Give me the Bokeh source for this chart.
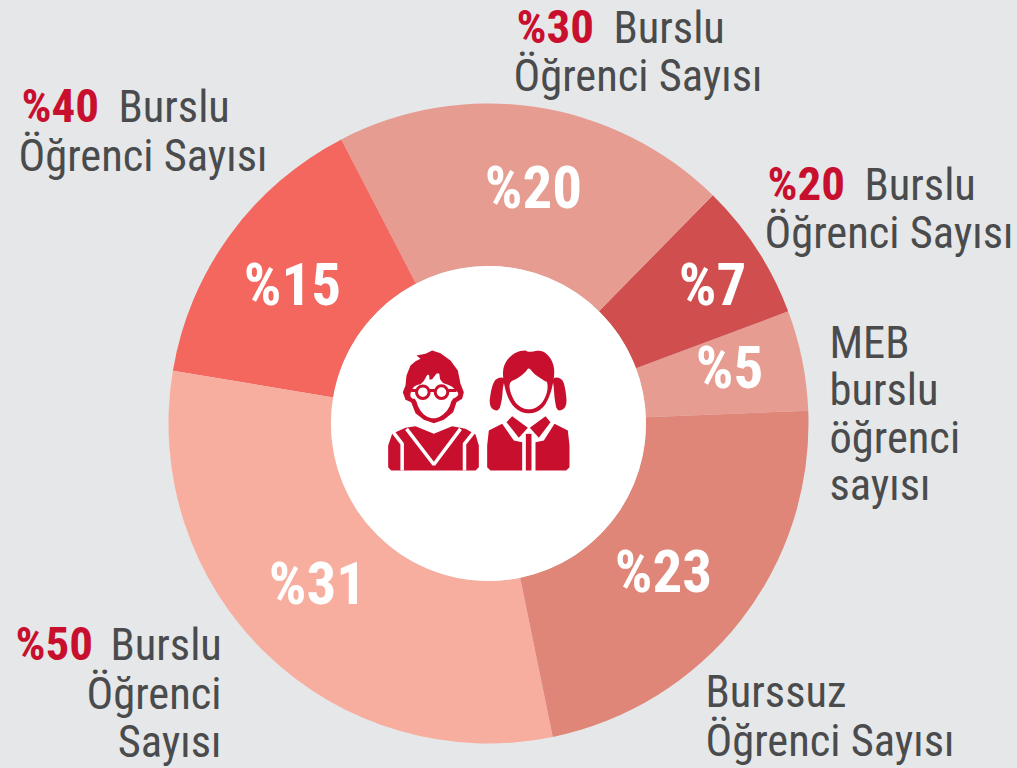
from math import pi
from bokeh.plotting import figure
from bokeh.models import Range1d, ColumnDataSource
from bokeh.core.properties import value
from bokeh.embed import file_html
from bokeh.resources import INLINE

W, H = 1017, 768
BG = "#e5e7e9"
RED = "#c8102e"
DARK = "#4a4b4c"
FONT = "Roboto Condensed"

# slices, anticlockwise from the right: printed labels and shares as drawn
pct_labels = ["%5", "%7", "%20", "%15", "%31", "%23"]
share = [5.06, 6.94, 19.97, 14.75, 30.86, 22.42]
colors = ["#e69c91", "#d04f4e", "#e69c91", "#f4675e", "#f8ae9f", "#df8679"]
pct_x = [729, 712, 533, 292, 317, 663]
pct_base = [388, 305, 208, 305, 604, 592]

# captions
head_text = ["%30", "%40", "%20", "%50"]
head_x = [516, 21, 767, 15]
head_base = [43, 122, 200, 660]
cap_text = ["Burslu", "Öğrenci Sayısı",
            "Burslu", "Öğrenci Sayısı",
            "Burslu", "Öğrenci Sayısı",
            "MEB", "burslu", "öğrenci", "sayısı",
            "Burssuz", "Öğrenci Sayısı",
            "Burslu", "Öğrenci", "Sayısı"]
cap_x = [613, 513, 118, 18, 864, 764, 829, 829, 829, 829, 705, 705, 110, 221, 221]
cap_base = [43, 91, 122, 171, 200, 248, 358, 405, 453, 500, 707, 756, 660, 709, 757]
cap_align = ["left"] * 13 + ["right", "right"]

# icon outlines, in zoomed crop pixels
boy_head = [(97,185),(105,165),(108,135),(120,105),(135,92),(150,85),(138,75),(165,70),(185,60),(210,68),(240,90),(262,120),(270,160),(280,185),(275,205),(258,215),(248,245),(220,268),(190,278),(160,268),(135,248),(122,215),(105,208)]
boy_face = [(118,195),(125,175),(135,165),(155,160),(175,125),(178,155),(205,120),(210,155),(240,165),(255,178),(265,190),(258,200),(245,205),(235,235),(212,258),(190,265),(165,258),(145,235),(135,205),(125,205)]
boy_body = [(53,345),(65,310),(105,292),(135,287),(190,310),(245,287),(285,295),(315,312),(325,345),(325,410),(315,420),(62,420),(53,410)]
boy_lines = [[(108,295),(190,402),(270,295)], [(68,305),(95,340),(95,420)], [(310,305),(282,340),(282,420)]]
glasses = [(157,185),(213,185)]
glass_bits = [[(177,180),(193,180)], [(122,180),(137,180)], [(233,180),(258,180)]]
girl_head = [(396,140),(400,100),(428,68),(462,58),(475,66),(512,58),(538,78),(552,110),(550,150),(537,200),(515,237),(475,252),(435,237),(410,200)]
girl_face = [(415,155),(440,145),(465,125),(475,110),(490,130),(520,150),(532,155),(530,190),(510,225),(475,240),(440,225),(420,190)]
girl_tail_l = [(405,140),(375,143),(362,175),(355,230),(385,245),(395,205),(397,170)]
girl_tail_r = [(545,140),(575,143),(585,175),(590,230),(560,245),(552,205),(550,170)]
girl_left = [(350,345),(355,300),(395,280),(430,330),(455,335),(455,420),(360,420),(350,410)]
girl_right = [(597,345),(592,300),(552,280),(520,330),(495,335),(495,420),(587,420),(597,410)]
girl_strip = [(466,310),(483,310),(483,420),(466,420)]
girl_flap_l = [(425,257),(472,292),(445,322),(408,275)]
girl_flap_r = [(525,257),(478,292),(505,322),(540,275)]

def ix(v): return 370 + v / 3
def iy(v): return H - (330 + v / 3)

def smooth(pts, n=2):
    for _ in range(n):
        out = []
        for i, (x0, y0) in enumerate(pts):
            x1, y1 = pts[(i + 1) % len(pts)]
            out += [(0.75 * x0 + 0.25 * x1, 0.75 * y0 + 0.25 * y1),
                    (0.25 * x0 + 0.75 * x1, 0.25 * y0 + 0.75 * y1)]
        pts = out
    return pts

p = figure(width=W, height=H, x_range=Range1d(0, W), y_range=Range1d(0, H),
           output_backend="svg", toolbar_location=None, min_border=0,
           background_fill_color=BG, border_fill_color=BG, outline_line_color=None)
p.axis.visible = False
p.grid.visible = False

CX, CY, R_OUT, R_IN = 488, H - 423, 320, 157.5
start_deg = 2.3
total = sum(share)
starts, ends = [], []
a = start_deg
for v in share:
    starts.append(a * pi / 180)
    a += 360 * v / total
    ends.append(a * pi / 180)

p.annular_wedge(x=[CX] * 6, y=[CY] * 6, inner_radius=R_IN, outer_radius=R_OUT,
                start_angle=starts, end_angle=ends, fill_color=colors, line_color=None)
p.circle(x=[CX], y=[CY], radius=R_IN, fill_color="white", line_color=None)

def poly(pts, color=RED):
    p.patch([ix(x) for x, _ in pts], [iy(y) for _, y in pts], fill_color=color, line_color=None)

def stroke(pts, color, w):
    p.line([ix(x) for x, _ in pts], [iy(y) for _, y in pts], line_color=color, line_width=w)

poly(boy_head); poly(smooth(boy_face, 1), "white"); poly(boy_body)
for l in boy_lines:
    stroke(l, "white", 3.5)
for gx, gy in glasses:
    p.circle(x=[ix(gx)], y=[iy(gy)], radius=6.3, fill_color="white", line_color=RED, line_width=3)
for l in glass_bits:
    stroke(l, RED, 3)
poly(smooth(girl_head)); poly(smooth(girl_face), "white"); poly(smooth(girl_tail_l)); poly(smooth(girl_tail_r))
for s in (girl_left, girl_right, girl_strip, girl_flap_l, girl_flap_r):
    poly(s)

p.text(x=pct_x, y=[H - b for b in pct_base], text=pct_labels, text_color="white",
       text_font=value(FONT), text_font_style="bold", text_font_size="59px",
       text_align="center", text_baseline="alphabetic", y_offset=-21)

p.text(x=head_x, y=[H - b for b in head_base], text=head_text, text_color=RED,
       text_font=value(FONT), text_font_style="bold", text_font_size="47px",
       text_baseline="alphabetic", y_offset=-17)

src = ColumnDataSource(dict(x=cap_x, y=[H - b for b in cap_base], t=cap_text, a=cap_align))
p.text(x="x", y="y", text="t", text_color=DARK, text_font=value(FONT),
       text_align="a", text_font_size="44.5px", text_baseline="alphabetic", y_offset=-16, source=src)

html = file_html(p, INLINE)
html = html.replace("<head>", "<head><style>html,body{margin:0;padding:0;overflow:hidden;background:%s}</style>" % BG, 1)
open("out.html", "w").write(html)
